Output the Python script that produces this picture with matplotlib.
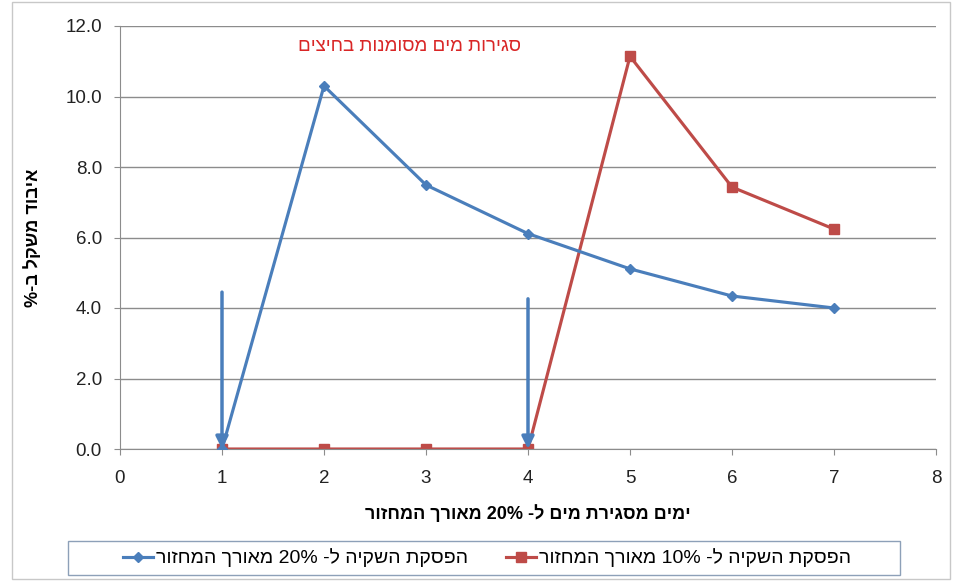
import matplotlib
matplotlib.use("Agg")
import matplotlib.pyplot as plt
from matplotlib.patches import Rectangle
from matplotlib.ticker import FormatStrFormatter

plt.rcParams['font.family'] = ['Liberation Sans', 'DejaVu Sans']

# Hebrew strings are stored in visual (left-to-right drawing) order
days = [1, 2, 3, 4, 5, 6, 7]
loss_20 = [0.0, 10.30, 7.49, 6.11, 5.11, 4.34, 4.00]
loss_10 = [0.0, 0.0, 0.0, 0.0, 11.14, 7.43, 6.24]
arrow_days = [1, 4]
arrow_tops = [4.45, 4.26]

label_20 = "רוזחמה ךרואמ 20% -ל היקשה תקספה"
label_10 = "רוזחמה ךרואמ 10% -ל היקשה תקספה"
x_title = "רוזחמה ךרואמ 20% -ל םימ תריגסמ םימי"
y_title = "%-ב לקשמ דוביא"
note = "םיציחב תונמוסמ םימ תוריגס"

x_ticks = [0, 1, 2, 3, 4, 5, 6, 7, 8]
y_ticks = [0, 2, 4, 6, 8, 10, 12]

blue = "#4A7EBB"
red = "#BE4B48"

fig = plt.figure(figsize=(9.54, 5.81), dpi=100)
ax = fig.add_axes([120 / 954, 1 - 449 / 581, 816 / 954, 423 / 581])

ax.plot(days, loss_20, color=blue, lw=2.25, marker="D", ms=5.5, label=label_20, zorder=3)
ax.plot(days, loss_10, color=red, lw=2.25, marker="s", ms=7, label=label_10, zorder=2)

for d, top in zip(arrow_days, arrow_tops):
    ax.annotate("", xy=(d, 0), xytext=(d, top),
                arrowprops=dict(arrowstyle="-|>", color=blue, lw=2.5,
                                mutation_scale=18, shrinkA=0, shrinkB=0),
                zorder=4)

ax.set_xlim(0, 8)
ax.set_ylim(0, 12)
ax.set_xticks(x_ticks)
ax.set_yticks(y_ticks)
ax.yaxis.set_major_formatter(FormatStrFormatter("%.1f"))
ax.tick_params(labelsize=13.5, color="#8c8c8c", length=4, labelcolor="#222222")
ax.tick_params(axis="y", pad=9)
ax.tick_params(axis="x", pad=11)
ax.grid(axis="y", color="#8c8c8c", lw=1)
ax.set_axisbelow(True)
for s in ["top", "right"]:
    ax.spines[s].set_visible(False)
for s in ["left", "bottom"]:
    ax.spines[s].set_color("#8c8c8c")

ax.set_xlabel(x_title, fontsize=13, fontweight="bold", labelpad=13)
ax.set_ylabel(y_title, fontsize=13, fontweight="bold", labelpad=17)

ax.text(2.84, 11.43, note, color="#D92626", fontsize=13.5, ha="center", va="center")

# Legend box below the axes
leg = fig.legend(loc="center", ncol=2, frameon=False,
                 bbox_to_anchor=(487 / 954, 1 - 558 / 581),
                 fontsize=14, handlelength=1.5, handletextpad=0.15,
                 columnspacing=2.0)
fig.patches.append(Rectangle((68 / 954, 1 - 575 / 581), 832 / 954, 34 / 581,
                             transform=fig.transFigure, fill=False,
                             edgecolor="#8DA0B8", lw=1))

fig.patches.append(Rectangle((12 / 954, 2 / 581), 938 / 954, 577 / 581,
                             transform=fig.transFigure, fill=False,
                             edgecolor="#C8C8C8", lw=1))

fig.savefig("out.png", dpi=100)
